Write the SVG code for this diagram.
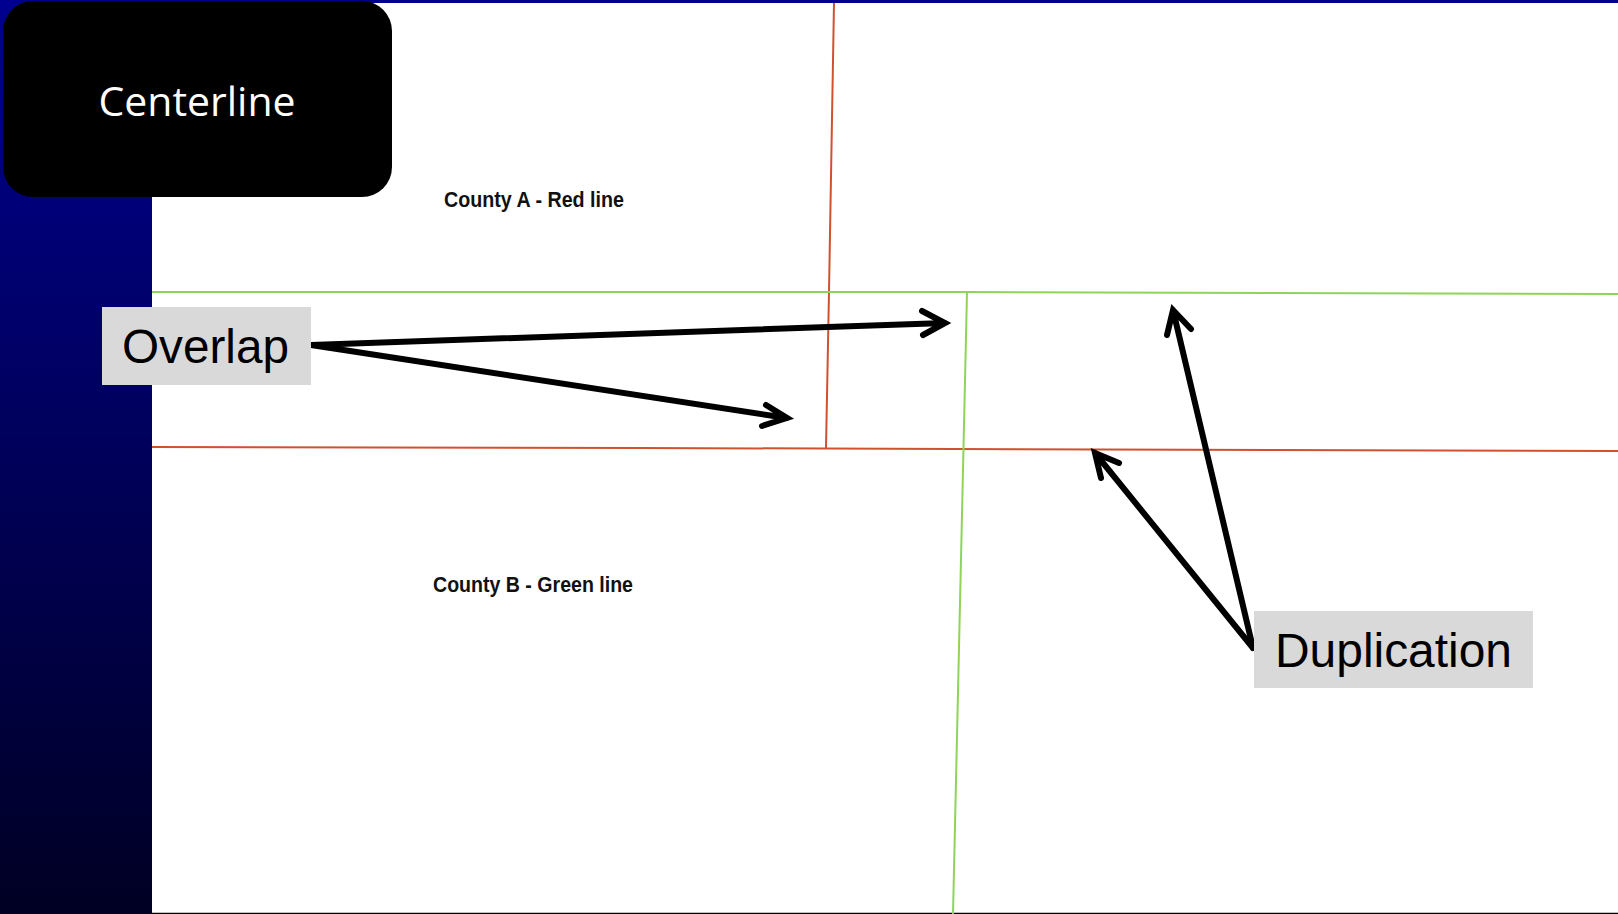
<svg xmlns="http://www.w3.org/2000/svg" width="1618" height="914" viewBox="0 0 1618 914">
<defs>
<linearGradient id="bg" x1="0" y1="0" x2="0" y2="1">
<stop offset="0" stop-color="#000090"/>
<stop offset="1" stop-color="#000024"/>
</linearGradient>
</defs>
<style>
.red{fill:none;stroke:#d0512f;stroke-width:2}
.green{fill:none;stroke:#8fd458;stroke-width:2}
.arrow{fill:none;stroke:#000;stroke-width:6;stroke-linecap:round;stroke-linejoin:miter}
.callout{fill:#d9d9d9}
.callout-text{font-family:"Liberation Sans",Arial,sans-serif;font-size:48px;fill:#000}
.county{font-family:"Liberation Sans",Arial,sans-serif;font-weight:bold;font-size:22px;fill:#111}
</style>
<rect x="0" y="0" width="1618" height="914" fill="url(#bg)"/>
<rect x="152" y="3" width="1466" height="910" fill="#fff"/>
<line x1="152" y1="913.5" x2="1618" y2="913.5" stroke="#000" stroke-width="1.5"/>
<g id="map-lines">
<polyline class="red" points="834,3 829,292 826,448"/>
<polyline class="red" points="152,447 640,448 1618,451"/>
<polyline class="green" points="152,292 967,292 1618,294"/>
<polyline class="green" points="967,292 953,914"/>
</g>
<g id="title">
<rect x="3" y="1" width="389" height="196" rx="30" ry="30" fill="#000"/>
<text x="197" y="116" text-anchor="middle" font-family="'Open Sans','Noto Sans',sans-serif" font-size="41" fill="#fff" textLength="197" lengthAdjust="spacingAndGlyphs">Centerline</text>
</g>
<g id="county-a">
<text class="county" x="444" y="207" textLength="180" lengthAdjust="spacingAndGlyphs">County A - Red line</text>
</g>
<g id="county-b">
<text class="county" x="433" y="592" textLength="200" lengthAdjust="spacingAndGlyphs">County B - Green line</text>
</g>
<g id="connectors">
<path class="arrow" d="M311,345 L945,323 M922,311 L945,323 L923,335"/>
<path class="arrow" d="M311,345 L787,418 M766,405 L787,418 L762,426"/>
<path class="arrow" d="M1253,648 L1173,310 M1167,335 L1173,310 L1191,329"/>
<path class="arrow" d="M1253,648 L1095,453 M1101,478 L1095,453 L1119,463"/>
</g>
<g id="overlap">
<rect class="callout" x="102" y="307" width="209" height="78"/>
<text class="callout-text" x="122" y="363" textLength="167" lengthAdjust="spacingAndGlyphs">Overlap</text>
</g>
<g id="duplication">
<rect class="callout" x="1254" y="611" width="279" height="77"/>
<text class="callout-text" x="1275" y="667" textLength="237" lengthAdjust="spacingAndGlyphs">Duplication</text>
</g>
</svg>
